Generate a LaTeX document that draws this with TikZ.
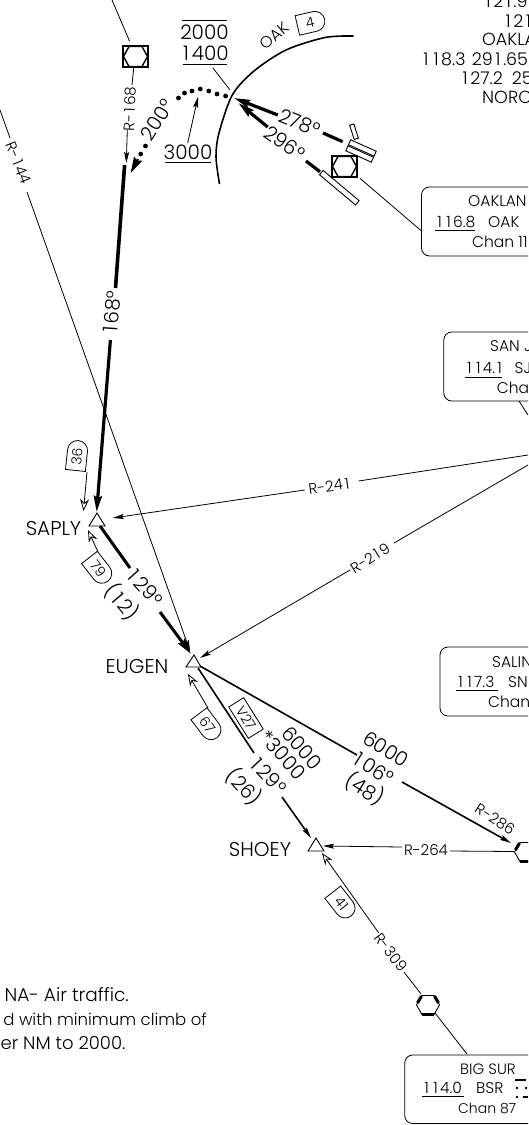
\documentclass[tikz,border=0pt]{standalone}
\usepackage{fontspec}
\setmainfont{Poppins Light}
\usetikzlibrary{arrows.meta}
\newcommand{\On}{\makebox[0.58em][c]{1}}
\tikzset{x=1pt,y=1pt,
 thin line/.style={line width=0.8pt},
 mid line/.style={line width=1.6pt},
 thick line/.style={line width=3.2pt},
 solidtip/.style={-{Stealth[length=11pt,width=5pt,inset=2pt]}},
 heavytip/.style={-{Stealth[length=16pt,width=8pt,inset=2pt]}},
 opentip/.style={-{Stealth[open,length=12pt,width=9pt,inset=4pt,fill=white]}},
 big/.style={font=\fontsize{20}{20}\selectfont,inner sep=0pt},
 small/.style={font=\fontsize{15}{15}\selectfont,inner sep=0pt},
 mile/.style={font=\fontsize{14}{14}\selectfont,inner sep=0pt,transform shape},
 boxt/.style={font=\fontsize{15.5}{15.5}\selectfont,inner sep=0pt,anchor=west},
 topt/.style={font=\fontsize{17.5}{17.5}\selectfont,inner sep=0pt,anchor=west},
 notet/.style={inner sep=0pt,anchor=east},
 infobox/.style={draw,line width=0.8pt,rounded corners=8pt},
 rule/.style={line width=0.8pt},
 fixline/.style={line width=0.9pt},
}
\newcommand{\milebox}[5]{% name pos rot halflength text
 \begin{scope}[shift={#2},rotate=#3]
  \draw[line width=0.8pt,fill=white] (-#4,-10) -- ({#4-10},-10) arc (-90:90:10) -- (-#4,10) -- cycle;
  \node[mile] (#1) at (-1,0) {#5};
 \end{scope}}
\newcommand{\vorbox}[1]{%
 \begin{scope}[shift={#1}]
  \draw[line width=1.4pt] (-12.5,-10.5) rectangle (12.5,10.5);
  \draw[line width=1.4pt] (-12,0) -- (-6.5,10) -- (6.5,10) -- (12,0) -- (6.5,-10) -- (-6.5,-10) -- cycle;
 \end{scope}}
\newcommand{\hexa}[1]{%
 \begin{scope}[shift={#1}]
  \draw[line width=0.9pt] (-11.5,0) -- (-6,9.5) -- (6,9.5) -- (11.5,0) -- (6,-9.5) -- (-6,-9.5) -- cycle;
  \draw[line width=3pt] (-6,-9.5) -- (6,-9.5);
  \draw[line width=3pt] (-10.5,2) -- (-6.5,9);
  \draw[line width=3pt] (10.5,2) -- (6.5,9);
 \end{scope}}
\begin{document}
\begin{tikzpicture}
\useasboundingbox (0,0) rectangle (528,-1125);
\clip (0,0) rectangle (528,-1125);
% waypoints
\draw[fixline] (89,-526) -- (97,-513) -- (105,-526) -- cycle;
\draw[fixline] (186,-667) -- (194,-655) -- (201,-667) -- cycle;
\draw[fixline] (308,-851) -- (316,-838) -- (324,-851) -- cycle;
\node[big] (saply) at (53.5,-528) {SAPLY};
\node[big] (eugen) at (137,-666) {EUGEN};
\node[big] (shoey) at (260,-849) {SHOEY};
% R-168 and 168
\coordinate (a1) at (112,0);
\coordinate (a2) at (129.5,-41);
\draw[thin line] (a1) -- (a2);
\vorbox{(135.5,-56.5)}
\node[small,rotate=88] (r168) at (129.6,-109) {R-\On 68};
\coordinate (b1) at (133.7,-68); \coordinate (b2) at (132,-85);
\coordinate (b3) at (127.3,-130); \coordinate (b4) at (126.3,-163);
\draw[thin line] (b1) -- (b2);
\draw[thin line,solidtip] (b3) -- (b4);
\node[big,rotate=86] (c168) at (112,-313) {\On 68°};
\coordinate (c1) at (124.6,-165); \coordinate (c2) at (115.5,-288);
\coordinate (c3) at (110.4,-340); \coordinate (c4) at (96.6,-512);
\draw[line width=3.6pt] (c1) -- (c2);
\draw[line width=3.2pt,heavytip] (c3) -- (c4);
% R-144
\node[small,rotate=-68] (r144) at (18.5,-163) {R-\On 44};
\coordinate (d1) at (0,-110); \coordinate (d2) at (10,-138);
\coordinate (d3) at (27,-192); \coordinate (d4) at (190,-651);
\draw[thin line] (d1) -- (d2);
\draw[thin line,solidtip] (d3) -- (d4);
% 36
\milebox{m36}{(77,-455.5)}{84}{15}{36}
\coordinate (e1) at (87,-472); \coordinate (e2) at (83.5,-511);
\draw[thin line,opentip] (e1) -- (e2);
% R-241
\node[small,rotate=8] (r241) at (330,-486) {R-24\On};
\coordinate (f1) at (528,-455); \coordinate (f2) at (358.6,-481);
\coordinate (f3) at (304.7,-490); \coordinate (f4) at (112.8,-518);
\draw[thin line] (f1) -- (f2);
\draw[thin line,solidtip] (f3) -- (f4);
% R-219
\node[small,rotate=32] (r219) at (370,-558) {R-2\On 9};
\coordinate (g1) at (528,-465); \coordinate (g2) at (394,-543);
\coordinate (g3) at (350,-570); \coordinate (g4) at (200,-658);
\draw[thin line] (g1) -- (g2);
\draw[thin line,solidtip] (g3) -- (g4);
% 129 top
\coordinate (h1) at (100,-526); \coordinate (h2) at (130,-568);
\coordinate (h3) at (160,-612); \coordinate (h4) at (191,-654);
\draw[line width=3pt] (h1) -- (h2);
\draw[line width=3pt,heavytip] (h3) -- (h4);
\node[big,rotate=-48] (l129a) at (145,-587) {\On 29°};
\node[big,rotate=-50] (l12) at (122,-602) {(\On 2)};
\milebox{m79}{(98.7,-569.3)}{-52}{15}{79}
\coordinate (i1) at (98,-552); \coordinate (i2) at (88,-530);
\draw[thin line,opentip] (i1) -- (i2);
% Eugen-Shoey
\coordinate (j1) at (198,-668); \coordinate (j2) at (254,-753);
\coordinate (j3) at (282,-797); \coordinate (j4) at (311,-838);
\draw[mid line] (j1) -- (j2);
\draw[mid line,solidtip] (j3) -- (j4);
\node[big,rotate=-47] (l129b) at (268,-775) {\On 29°};
\node[big,rotate=-48] (l26) at (244,-787) {(26)};
\node[big,rotate=-48] (l3000b) at (283,-755) {*3000};
\node[big,rotate=-48] (l6000a) at (302,-748) {6000};
\begin{scope}[shift={(246,-718)},rotate=-58]
 \draw[line width=0.8pt] (-18.5,-8.8) rectangle (18.5,8.8);
 \node[mile] (v27) at (0,0) {V27};
\end{scope}
\milebox{m67}{(208,-725.7)}{-53}{15}{67}
\coordinate (k1) at (208,-708); \coordinate (k2) at (188,-674);
\draw[thin line,opentip] (k1) -- (k2);
% Eugen-R286
\coordinate (l1) at (200,-666); \coordinate (l2) at (357,-755);
\coordinate (l3) at (402,-782); \coordinate (l4) at (511,-843);
\draw[mid line] (l1) -- (l2);
\draw[mid line,solidtip] (l3) -- (l4);
\node[big,rotate=-32] (l106) at (373,-768) {\On 06°};
\node[big,rotate=-32] (l48) at (365,-789) {(48)};
\node[big,rotate=-32] (l6000b) at (386,-749) {6000};
\node[small,rotate=-33] (r286) at (495,-819) {R-286};
% R-264
\hexa{(526,-852)}
\node[small] (r264) at (426,-850) {R-264};
\coordinate (n1) at (450,-851); \coordinate (n2) at (514,-851.5);
\coordinate (n3) at (402,-847); \coordinate (n4) at (323,-846);
\draw[thin line] (n1) -- (n2);
\draw[thin line,solidtip] (n3) -- (n4);
% R-309
\hexa{(428,-1005)}
\coordinate (o1) at (378.8,-933); \coordinate (o2) at (322,-853);
\coordinate (o3) at (404,-972); \coordinate (o4) at (421,-994);
\coordinate (o5) at (435,-1013); \coordinate (o6) at (467,-1054);
\draw[thin line,opentip] (o1) -- (o2);
\node[small,rotate=-52] (r309) at (391,-952) {R-309};
\draw[thin line] (o3) -- (o4);
\draw[thin line] (o5) -- (o6);
\milebox{m41}{(342,-904)}{-52}{15}{41}
% Oak arc and holding
\draw[line width=1.6pt] plot[smooth] coordinates {(353.5,-36) (325,-37.5) (286,-50) (254,-71) (232.3,-95) (219,-133) (216,-157) (219.5,-184)};
\node[font=\fontsize{16}{16}\selectfont,inner sep=0pt,rotate=40] (oak) at (274.4,-36) {OAK};
\milebox{m4}{(311,-22.3)}{13}{14}{4}
\node[big] (l2000) at (204.5,-32) {2000};
\node[big] (l1400) at (204.5,-53) {\On 400};
\draw[rule] (182,-20) -- (227,-20);
\draw[rule] (183,-64.5) -- (227,-64.5);
\coordinate (p1) at (212.7,-67.7); \coordinate (p2) at (230,-90);
\draw[thin line] (p1) -- (p2);
\node[big] (l3000) at (188,-152) {3000};
\draw[rule] (165,-162.7) -- (210.7,-162.7);
\coordinate (q1) at (187.7,-143); \coordinate (q2) at (198,-96.7);
\draw[thin line,solidtip] (q1) -- (q2);
\foreach \p in {(225.6,-96),(217,-94),(208.8,-91),(200.3,-89),(192,-91),(184.5,-93),(178.5,-98),(145.5,-146),(140.7,-154)}
 \fill \p circle (2.4);
\node[big,rotate=58] (l200) at (157,-120) {200°};
\coordinate (r1) at (138,-159); \coordinate (r2) at (130.7,-173);
\draw[line width=2pt,-{Stealth[length=16pt,width=9pt,inset=2pt]}] (r1) -- (r2);
% 278, 296
\node[big,rotate=-22] (l278) at (299.7,-123) {278°};
\node[big,rotate=-35] (l296) at (284.5,-143) {296°};
\coordinate (s1) at (323,-133); \coordinate (s2) at (342.7,-141.7);
\coordinate (s3) at (277.8,-115); \coordinate (s4) at (234,-98);
\coordinate (t1) at (306,-161); \coordinate (t2) at (320,-171.7);
\coordinate (t3) at (267.7,-127); \coordinate (t4) at (238.4,-103);
\draw[thick line] (s1) -- (s2);
\draw[thick line,heavytip] (s3) -- (s4);
\draw[thick line] (t1) -- (t2);
\draw[thick line,heavytip] (t3) -- (t4);
% airport
\vorbox{(344.5,-166.5)}
\begin{scope}[shift={(339.3,-187.7)},rotate=-40]
 \draw[fixline] (-23.5,-2.8) rectangle (23.5,2.8);
\end{scope}
\begin{scope}[shift={(361,-151)},rotate=-24]
 \draw[fixline] (-14,-6) rectangle (14,6);
 \draw[fixline] (-14,-0.6) -- (14,-0.6);
 \draw[fixline] (-14,0.6) -- (14,0.6);
\end{scope}
\begin{scope}[shift={(354,-131.7)},rotate=-72]
 \draw[fixline] (-7.5,-2.2) rectangle (7.5,2.2);
\end{scope}
\coordinate (u1) at (360,-178.3); \coordinate (u2) at (421.5,-231);
\draw[thin line] (u1) -- (u2);
% top right
\node[topt] (t1219) at (483,-1) {\On 2\On.9};
\node[topt] (t121) at (503,-21) {\On 2\On};
\node[topt] (toak) at (482,-39) {OAKLA};
\node[topt] (t118) at (420.7,-59) {\On\On 8.3};
\node[topt] (t291) at (471.7,-59) {29\On.65};
\node[topt] (t127) at (460,-78) {\On 27.2};
\node[topt] (t25) at (511.7,-78) {25};
\node[topt] (tnor) at (482,-97) {NORC};
% boxes
\draw[infobox] (421.5,-187) rectangle (560,-256);
\node[boxt] (oak1) at (468,-201) {OAKLAN};
\node[boxt] (oak2) at (435,-222) {\On\On 6.8};
\draw[rule] (435,-230) -- (475.4,-230);
\node[boxt] (oak3) at (488,-222) {OAK};
\node[boxt] (oak4) at (472,-242) {Chan 11};
\draw[infobox] (443.8,-332) rectangle (580,-401);
\node[boxt] (san1) at (490,-346) {SAN J};
\node[boxt] (san2) at (464.6,-368) {\On\On 4.\On};
\draw[rule] (464.6,-377) -- (502,-377);
\node[boxt] (san3) at (514.5,-368) {SJ};
\node[boxt] (san4) at (496.6,-388) {Chan};
\coordinate (v1) at (519,-401); \coordinate (v2) at (528,-415);
\draw[thin line] (v1) -- (v2);
\draw[infobox] (440,-647) rectangle (580,-716);
\node[boxt] (sal1) at (492,-662) {SALIN};
\node[boxt] (sal2) at (456,-682) {\On\On 7.3};
\draw[rule] (456,-690) -- (498,-690);
\node[boxt] (sal3) at (508,-682) {SN};
\node[boxt] (sal4) at (488,-702) {Chan};
\draw[infobox] (404.7,-1055) rectangle (580,-1123.5);
\node[boxt,font=\fontsize{15}{15}\selectfont] (big1) at (460,-1069) {BIG SUR};
\node[boxt] (big2) at (422,-1088) {\On\On 4.0};
\draw[rule] (422,-1096) -- (463.5,-1096);
\node[boxt] (big3) at (476,-1088) {BSR};
\node[boxt,font=\fontsize{14}{14}\selectfont] (big4) at (458,-1108) {Chan 87};
% morse
\draw[line width=2pt] (515,-1079.5) -- (526,-1079.5);
\fill (517,-1088) circle (1.3) (526,-1088) circle (1.3) (517,-1097) circle (1.3);
\draw[line width=2pt] (523,-1097) -- (528,-1097);
% note
\node[notet,font=\fontsize{18.5}{18.5}\selectfont] (n1t) at (129,-995) {NA- Air traffic.};
\node[notet,font=\fontsize{16.5}{16.5}\selectfont] (n2t) at (207,-1019) {d with minimum climb of};
\node[notet,font=\fontsize{18}{18}\selectfont] (n3t) at (125.6,-1043) {er NM to 2000.};
\end{tikzpicture}
\end{document}
